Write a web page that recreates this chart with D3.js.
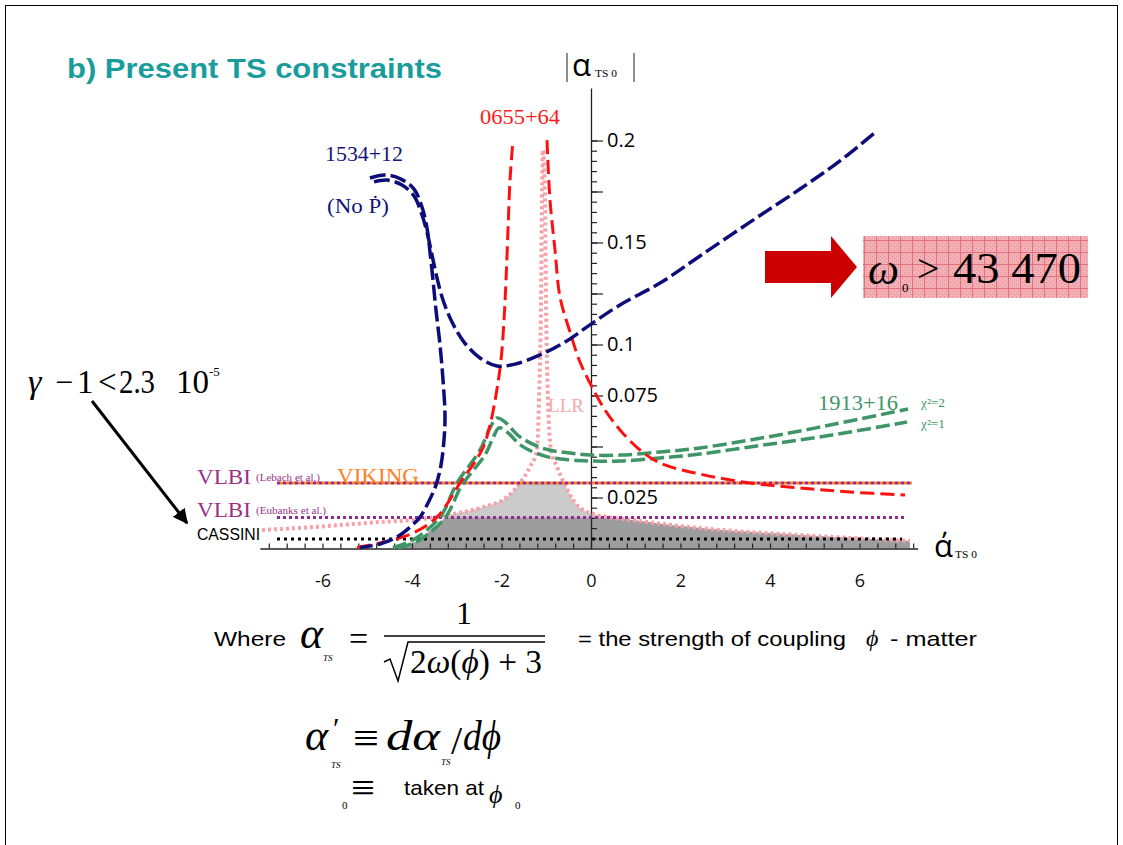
<!DOCTYPE html>
<html><head><meta charset="utf-8">
<script src="https://d3js.org/d3.v7.min.js"></script>
<style>body{margin:0;background:#fff}svg{display:block}</style>
</head><body>
<svg id="c" width="1123" height="845"></svg>
<script>
// ---- data (alpha'_TS0 , |alpha_TS0|) ----
const blueA = [[-4.939,0.1816],[-4.603,0.1831],[-4.246,0.1811],[-3.955,0.1762],[-3.777,0.1674],[-3.665,0.1571],[-3.598,0.1453],[-3.531,0.1316],[-3.464,0.1169],[-3.374,0.0998],[-3.307,0.0826],[-3.263,0.0654],[-3.285,0.0532],[-3.352,0.0409],[-3.464,0.0311],[-3.642,0.0223],[-3.821,0.0154],[-4.089,0.0096],[-4.335,0.0056],[-4.715,0.0022],[-5.162,0.0005]];
const blueB = [[-4.849,0.1797],[-4.559,0.1806],[-4.223,0.1782],[-3.955,0.1728],[-3.799,0.1650],[-3.665,0.1551],[-3.553,0.1439],[-3.441,0.1326],[-3.307,0.1218],[-3.106,0.1110],[-2.838,0.1012],[-2.480,0.0934],[-2.101,0.0895],[-1.698,0.0904],[-1.140,0.0949],[-0.581,0.1012],[0,0.1100],[0.648,0.1194],[1.542,0.1301],[2.436,0.1434],[3.553,0.1600],[4.670,0.1762],[5.564,0.1900],[6.391,0.2047]];
const redLeft = [[-5.229,0.0005],[-4.715,0.0027],[-3.978,0.0076],[-3.441,0.0154],[-2.927,0.0321],[-2.436,0.0483],[-2.257,0.0605],[-2.123,0.0752],[-2.011,0.0924],[-1.944,0.1120],[-1.899,0.1316],[-1.855,0.1561],[-1.810,0.1806],[-1.743,0.2002]];
const redRight = [[-0.983,0.2002],[-0.916,0.1708],[-0.804,0.1463],[-0.693,0.1233],[-0.469,0.1061],[-0.246,0.0914],[0,0.0801],[0.313,0.0679],[0.648,0.0581],[1.095,0.0483],[1.542,0.0419],[2.436,0.0365],[3.553,0.0321],[4.670,0.0297],[5.788,0.0277],[7.017,0.0262]];
const greenChi2 = [[-4.425,0.0005],[-3.978,0.0042],[-3.374,0.0154],[-2.994,0.0321],[-2.480,0.0483],[-2.257,0.0591],[-2.101,0.0640],[-1.922,0.0620],[-1.587,0.0547],[-1.028,0.0488],[-0.469,0.0468],[0,0.0458],[0.648,0.0458],[1.542,0.0473],[2.436,0.0493],[3.553,0.0532],[4.670,0.0576],[5.788,0.0625],[7.084,0.0684]];
const greenChi1 = [[-4.313,0.0002],[-3.866,0.0037],[-3.263,0.0150],[-2.883,0.0311],[-2.369,0.0458],[-2.190,0.0542],[-2.056,0.0591],[-1.877,0.0571],[-1.542,0.0502],[-1.028,0.0453],[-0.469,0.0434],[0,0.0429],[0.648,0.0429],[1.542,0.0444],[2.436,0.0463],[3.553,0.0498],[4.670,0.0532],[5.788,0.0571],[7.061,0.0620]];
const llr = [[-7.352,0.0091],[-6.212,0.0105],[-4.715,0.0130],[-3.978,0.0140],[-3.218,0.0164],[-2.480,0.0199],[-1.877,0.0252],[-1.587,0.0321],[-1.363,0.0400],[-1.207,0.0483],[-1.162,0.0728],[-1.117,0.1218],[-1.095,0.1708],[-1.073,0.1953],[-1.028,0.1708],[-1.006,0.1218],[-0.961,0.0728],[-0.894,0.0483],[-0.760,0.0400],[-0.581,0.0311],[-0.402,0.0238],[-0.022,0.0174],[1.095,0.0135],[2.436,0.0100],[4.670,0.0066],[6.235,0.0047],[7.128,0.0037]];
const vlbiLebach = {value:0.0321, from:-7.017, to:7.17};
const vlbiEubanks = {value:0.0152, from:-7.017, to:7.02};
const cassini = {value:0.0047, from:-7.017, to:6.95};
const xMinorTicks = d3.range(-18,19).map(k=>+(k*0.4).toFixed(1));
const xLabels = [-6,-4,-2,0,2,4,6];
const yMinorTicks = d3.range(1,41).map(k=>+(k*0.005).toFixed(3));
const yMajorTicks = [0.025,0.05,0.075,0.1,0.125,0.15,0.175,0.2];
const yLabels = [0.025,0.075,0.1,0.15,0.2];

// ---- scales ----
const x = d3.scaleLinear().domain([-7.4,7.3]).range([591-7.4*44.75, 591+7.3*44.75]);
const y = d3.scaleLinear().domain([0,0.2257]).range([548.5, 548.5-0.2257*2040]);

const svg = d3.select('#c');
const defs = svg.append('defs');
const pat = defs.append('pattern').attr('id','chk').attr('width',12).attr('height',12).attr('patternUnits','userSpaceOnUse');
pat.append('rect').attr('width',12).attr('height',12).attr('fill','#f3b0b6');
for(let i=0;i<6;i++)for(let j=0;j<6;j++) if((i+j)%2==0) pat.append('rect').attr('x',i*2).attr('y',j*2).attr('width',1).attr('height',1).attr('fill','#e88890');
pat.append('path').attr('d','M0 0.5H12M0.5 0V12').attr('stroke','#e0707c').attr('stroke-width',1);

svg.append('rect').attr('x',5.5).attr('y',5.5).attr('width',1112).attr('height',870).attr('fill','none').attr('stroke','#000').attr('stroke-width',1);

svg.append('text').attr('x',67).attr('y',78).attr('font-family','Liberation Sans, Arial, sans-serif').attr('font-weight','bold').attr('font-size',28).attr('fill','#1a9c9c').attr('textLength',375).attr('lengthAdjust','spacingAndGlyphs').text('b) Present TS constraints');

// ---- fills (allowed regions) ----
const peakIdx = greenChi1.findIndex((d,i)=>i>0 && d[1]<greenChi1[i-1][1]) - 1;
const clipPts = greenChi1.slice(0, peakIdx+1).concat([[7.3, greenChi1[peakIdx][1]],[7.3,0]]);
defs.append('clipPath').attr('id','gclip').append('path').attr('d', d3.line().x(d=>x(d[0])).y(d=>y(d[1])).curve(d3.curveLinear)(clipPts)+'Z');
[[vlbiLebach,'#cbcbcb','lc'],[vlbiEubanks,'#9d9d9d','dc']].forEach(([cap,col,id])=>{
  defs.append('clipPath').attr('id',id).append('rect').attr('x',x(-7.4)).attr('y',y(cap.value)).attr('width',x(7.3)-x(-7.4)).attr('height',y(0)-y(cap.value));
  svg.append('g').attr('clip-path','url(#gclip)').append('path')
    .attr('clip-path',`url(#${id})`)
    .attr('d', d3.area().x(d=>x(d[0])).y0(y(0)).y1(d=>y(d[1])).curve(d3.curveMonotoneX)(llr))
    .attr('fill',col);
});

// ---- axes ----
const gx = svg.append('g').attr('transform',`translate(0,${y(0)})`);
gx.call(d3.axisBottom(x).tickValues(xMinorTicks).tickSize(-5).tickFormat('').tickSizeOuter(0));
gx.select('.domain').attr('stroke','#222').attr('stroke-width',1.3);
gx.selectAll('.tick line').attr('stroke','#222').attr('stroke-width',1.2);
const gxl = svg.append('g').attr('transform',`translate(0,${y(0)})`);
gxl.call(d3.axisBottom(x).tickValues(xLabels).tickSize(0).tickPadding(26).tickFormat(d=>String(d)));
gxl.select('.domain').remove();
gxl.selectAll('text').attr('font-family','Open Sans, sans-serif').attr('font-size',18).attr('fill','#111');

const gy = svg.append('g').attr('transform',`translate(${x(0)},0)`);
gy.call(d3.axisRight(y).tickValues(yMinorTicks).tickSize(6).tickFormat('').tickSizeOuter(0));
gy.select('.domain').attr('stroke','#222').attr('stroke-width',1.3);
gy.selectAll('.tick line').attr('stroke','#222').attr('stroke-width',1.2);
const gy2 = svg.append('g').attr('transform',`translate(${x(0)},0)`);
gy2.call(d3.axisRight(y).tickValues(yMajorTicks).tickSize(12).tickFormat(d=>yLabels.includes(d)?String(d):'').tickPadding(4));
gy2.select('.domain').remove();
gy2.selectAll('.tick line').attr('stroke','#222').attr('stroke-width',1.2);
gy2.selectAll('text').attr('font-family','Open Sans, sans-serif').attr('font-size',20).attr('fill','#000');

// ---- curves ----
const lineS = d3.line().x(d=>x(d[0])).y(d=>y(d[1])).curve(d3.curveCatmullRom.alpha(0.5));
const lineM = d3.line().x(d=>x(d[0])).y(d=>y(d[1])).curve(d3.curveMonotoneX);

svg.append('path').attr('d',lineM(llr)).attr('fill','none').attr('stroke','#f6a0a9').attr('stroke-width',4).attr('stroke-dasharray','3,3');

function hline(h,col,dash,off,w){
  svg.append('line').attr('x1',x(h.from)).attr('x2',x(h.to)).attr('y1',y(h.value)).attr('y2',y(h.value))
   .attr('stroke',col).attr('stroke-width',w||3).attr('stroke-dasharray',dash).attr('stroke-dashoffset',off||0);
}
hline(vlbiLebach,'#8e2c8e','3,3',0);
hline(vlbiLebach,'#ff8020','3,3',3);
hline(vlbiEubanks,'#8e2c8e','3,3',0);
hline(cassini,'#000','3,4',0);

svg.append('path').attr('d',lineS(greenChi2)).attr('fill','none').attr('stroke','#3f9567').attr('stroke-width',3.5).attr('stroke-dasharray','14,5');
svg.append('path').attr('d',lineS(greenChi1)).attr('fill','none').attr('stroke','#3f9567').attr('stroke-width',3.5).attr('stroke-dasharray','14,5');
svg.append('path').attr('d',lineS(redLeft)).attr('fill','none').attr('stroke','#ff1010').attr('stroke-width',3).attr('stroke-dasharray','14,6');
svg.append('path').attr('d',lineS(redRight)).attr('fill','none').attr('stroke','#ff1010').attr('stroke-width',3).attr('stroke-dasharray','14,6');
svg.append('path').attr('d',lineS(blueA)).attr('fill','none').attr('stroke','#0d0d7a').attr('stroke-width',3.5).attr('stroke-dasharray','16,5');
svg.append('path').attr('d',lineS(blueB)).attr('fill','none').attr('stroke','#0d0d7a').attr('stroke-width',3.5).attr('stroke-dasharray','16,5');

// ---- labels ----
const serif = 'Liberation Serif, Times New Roman, serif';
const sans = 'Liberation Sans, Arial, sans-serif';
function T(xp,yp,txt,opt){
  const t = svg.append('text').attr('x',xp).attr('y',yp).attr('font-family',opt.ff||serif).attr('font-size',opt.fs).attr('fill',opt.c||'#000');
  if(opt.it) t.attr('font-style','italic');
  if(opt.tl) t.attr('textLength',opt.tl).attr('lengthAdjust','spacingAndGlyphs');
  t.text(txt); return t;
}
T(325,161,'1534+12',{fs:21,c:'#14147a',tl:78});
T(327,213,'(No Ṗ)',{fs:21,c:'#14147a',tl:62});
T(480,124,'0655+64',{fs:21,c:'#ff1a1a',tl:80});
T(548,412,'LLR',{fs:19,c:'#f6a8b0',tl:36});
T(818,410,'1913+16',{fs:20,c:'#3f9567',tl:80});
T(921,407,'χ²=2',{fs:13,c:'#3f9567',tl:24});
T(921,428,'χ²=1',{fs:13,c:'#3f9567',tl:24});
T(197,484,'VLBI',{fs:22,c:'#9b3385',tl:54});
T(256,481,'(Lebach et al.)',{fs:10,c:'#9b3385',tl:64});
T(337,483,'VIKING',{fs:22,c:'#ff7f27',tl:82});
T(197,517,'VLBI',{fs:22,c:'#9b3385',tl:54});
T(256,514,'(Eubanks et al.)',{fs:10,c:'#9b3385',tl:70});
T(197,540,'CASSINI',{fs:16,ff:sans,tl:63});

// gamma label + arrow
T(28,393,'γ',{fs:34,it:true});
T(55,393,'−',{fs:32});
T(77,393,'1',{fs:33});
T(98,393,'<',{fs:33});
T(119,393,'2.3',{fs:33,tl:36});
const ten = T(176,393,'10',{fs:33});
ten.append('tspan').attr('font-size',13).attr('dy',-17).text('-5');
defs.append('marker').attr('id','ah').attr('viewBox','0 0 10 10').attr('refX',9).attr('refY',5).attr('markerWidth',5).attr('markerHeight',5).attr('orient','auto')
  .append('path').attr('d','M0 0L10 5L0 10Z').attr('fill','#000');
svg.append('line').attr('x1',92).attr('y1',401).attr('x2',187).attr('y2',523).attr('stroke','#000').attr('stroke-width',3).attr('marker-end','url(#ah)');

// axis titles
svg.append('line').attr('x1',567).attr('x2',567).attr('y1',53).attr('y2',82).attr('stroke','#444').attr('stroke-width',1.2);
svg.append('line').attr('x1',634).attr('x2',634).attr('y1',53).attr('y2',82).attr('stroke','#444').attr('stroke-width',1.2);
T(572,76,'α',{fs:31,ff:'Open Sans, sans-serif'});
T(595,77,'TS 0',{fs:11,tl:22});
T(934,557,'ά',{fs:31,ff:'Open Sans, sans-serif'});
T(955,558,'TS 0',{fs:11,tl:22});

// red arrow + box
svg.append('path').attr('d','M765 251H831V236L857 267L831 298V283H765Z').attr('fill','#cc0000');
svg.append('rect').attr('x',863).attr('y',236).attr('width',225).attr('height',62).attr('fill','url(#chk)');
T(868,284,'ω',{fs:44,it:true});
T(902,292,'0',{fs:13});
T(917,282,'>',{fs:40});
T(953,283,'43 470',{fs:45,tl:128});

// formulas
T(214,646,'Where',{fs:21,ff:sans,tl:72});
T(300,648,'α',{fs:44,it:true});
T(323,661,'TS',{fs:9,it:true});
T(349,650,'=',{fs:34});
T(456,624,'1',{fs:32});
svg.append('line').attr('x1',384).attr('x2',545).attr('y1',636).attr('y2',636).attr('stroke','#000').attr('stroke-width',1.5);
svg.append('path').attr('d','M384 662L390 659L398 681L408 642H545').attr('fill','none').attr('stroke','#000').attr('stroke-width',1.5);
const f=T(410,673,'2',{fs:34,tl:132}); f.append('tspan').attr('font-style','italic').text('ω'); f.append('tspan').text('('); f.append('tspan').attr('font-style','italic').text('ϕ'); f.append('tspan').text(') + 3');
T(578,646,'= the strength of coupling',{fs:21,ff:sans,tl:268});
T(866,646,'ϕ',{fs:24,it:true});
T(890,646,'- matter',{fs:21,ff:sans,tl:87});

T(305,750,'α',{fs:44,it:true});
T(333,738,'′',{fs:30});
T(331,768,'TS',{fs:9,it:true});
T(353,752,'≡',{fs:42,tl:26});
T(386,750,'dα',{fs:42,it:true,tl:54});
T(441,765,'TS',{fs:9,it:true});
T(451,754,'/',{fs:40});
T(463,750,'dϕ',{fs:42,it:true,tl:38});

T(342,809,'0',{fs:11});
T(351,801,'≡',{fs:40,tl:24});
T(404,795,'taken at',{fs:21,ff:sans,tl:80});
T(489,803,'ϕ',{fs:26,it:true});
T(515,809,'0',{fs:11});
</script>
</body></html>
